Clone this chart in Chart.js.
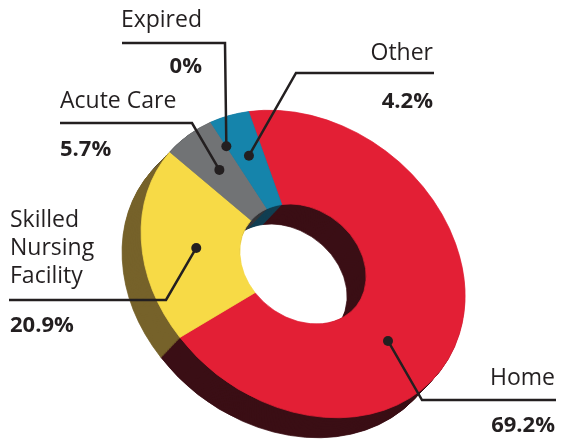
<!DOCTYPE html>
<html>
<head>
<meta charset="utf-8">
<script src="https://cdn.jsdelivr.net/npm/chart.js@4.4.1/dist/chart.umd.min.js"></script>
<style>
html,body{margin:0;padding:0;background:#ffffff;}
canvas{display:block;}
</style>
</head>
<body>
<canvas id="chart" width="567" height="439"></canvas>
<script>
// ---- data ----
const categories = ['Home', 'Skilled Nursing Facility', 'Acute Care', 'Expired', 'Other'];
const values = [69.2, 20.9, 5.7, 0, 4.2];
const valueLabels = ['69.2%', '20.9%', '5.7%', '0%', '4.2%'];

// ---- styles ----
const topColors  = ['#e31f35', '#f7da46', '#717375', '#1584ab', '#1584ab'];
const sideColors = ['#3b0f15', '#76622a', '#35363a', '#113f52', '#113f52'];
const ink = '#231f20';

// tilted view of the ring (screen space)
const view = { cx: 303, cy: 264, a: 174, b: 140, tilt: 38, depthX: -19, depthY: 20 };

// label layout: text anchor, leader line, where the dot sits inside its slice
const labelLayout = [
  { align: 'right', x: 555, y: 385, lh: 28, pctY: 432, wrap: false, line: [[556, 400], [422, 400]], frac: 0.59, r: 0.66 },
  { align: 'left',  x: 10,  y: 227, lh: 28, pctY: 332, wrap: true,  line: [[9, 300], [166, 300]],   frac: 0.5,  r: 0.66 },
  { align: 'left',  x: 60,  y: 108, lh: 28, pctY: 156, wrap: false, line: [[60, 123], [192, 123]],  frac: 0.5,  r: 0.73 },
  { align: 'right', x: 202, y: 27,  lh: 28, pctY: 73,  wrap: false, line: [[122, 43], [225, 43]],   frac: 0.5,  r: 0.83 },
  { align: 'right', x: 433, y: 60,  lh: 28, pctY: 108, wrap: false, line: [[434, 73], [296, 73]],   frac: 0.5,  r: 0.73 }
];

function viewMatrix(arc) {
  const R0 = arc.outerRadius;
  const th = view.tilt * Math.PI / 180, c = Math.cos(th), s = Math.sin(th);
  const p = view.a / R0, q = view.b / R0;
  const m11 = p * c * c + q * s * s;
  const m12 = (p - q) * s * c;
  const m22 = p * s * s + q * c * c;
  const e = view.cx - (m11 * arc.x + m12 * arc.y);
  const f = view.cy - (m12 * arc.x + m22 * arc.y);
  return [m11, m12, m12, m22, e, f];
}
function mapPoint(M, x, y) {
  return { x: M[0] * x + M[2] * y + M[4], y: M[1] * x + M[3] * y + M[5] };
}

const ring3d = {
  id: 'ring3d',
  beforeDatasetsDraw(chart) {
    const ctx = chart.ctx;
    const arcs = chart.getDatasetMeta(0).data;
    if (!arcs.length) return;
    const M = viewMatrix(arcs[0]);
    const steps = Math.ceil(Math.hypot(view.depthX, view.depthY));
    for (let k = steps; k >= 1; k--) {
      ctx.save();
      ctx.translate(view.depthX * k / steps, view.depthY * k / steps);
      ctx.transform(M[0], M[1], M[2], M[3], M[4], M[5]);
      arcs.forEach((arc, i) => {
        const side = Object.create(arc);
        side.options = Object.assign({}, arc.options, { backgroundColor: sideColors[i], borderColor: sideColors[i] });
        side.draw(ctx);
      });
      ctx.restore();
    }
    ctx.save();
    ctx.transform(M[0], M[1], M[2], M[3], M[4], M[5]);
  },
  afterDatasetsDraw(chart) {
    chart.ctx.restore();
  },
  afterDraw(chart) {
    const ctx = chart.ctx;
    const arcs = chart.getDatasetMeta(0).data;
    if (!arcs.length) return;
    const M = viewMatrix(arcs[0]);
    const R0 = arcs[0].outerRadius;
    ctx.save();
    ctx.fillStyle = ink;
    ctx.strokeStyle = ink;
    ctx.lineWidth = 2.5;
    ctx.lineJoin = 'miter';
    ctx.textBaseline = 'alphabetic';
    labelLayout.forEach((L, i) => {
      const arc = arcs[i];
      ctx.textAlign = L.align;
      ctx.font = '400 23px "Open Sans"';
      const lines = L.wrap ? categories[i].split(' ') : [categories[i]];
      lines.forEach((t, j) => ctx.fillText(t, L.x, L.y + j * L.lh));
      ctx.font = '700 22px "Open Sans"';
      ctx.fillText(valueLabels[i], L.x, L.pctY);

      const ang = arc.startAngle + L.frac * (arc.endAngle - arc.startAngle);
      const pt = mapPoint(M, arc.x + L.r * R0 * Math.cos(ang), arc.y + L.r * R0 * Math.sin(ang));
      ctx.beginPath();
      ctx.moveTo(L.line[0][0], L.line[0][1]);
      for (let j = 1; j < L.line.length; j++) ctx.lineTo(L.line[j][0], L.line[j][1]);
      ctx.lineTo(pt.x, pt.y);
      ctx.stroke();
      ctx.beginPath();
      ctx.arc(pt.x, pt.y, 5, 0, Math.PI * 2);
      ctx.fill();
    });
    ctx.restore();
  }
};

new Chart(document.getElementById('chart'), {
  type: 'doughnut',
  data: {
    labels: categories,
    datasets: [{
      data: values,
      backgroundColor: topColors,
      borderColor: topColors,
      borderWidth: 1,
      hoverOffset: 0,
      offset: 0
    }]
  },
  options: {
    responsive: false,
    animation: false,
    events: [],
    cutout: '39%',
    rotation: -13.8,
    layout: { padding: 0 },
    plugins: {
      legend: { display: false },
      tooltip: { enabled: false },
      title: { display: false }
    }
  },
  plugins: [ring3d]
});
</script>
</body>
</html>
